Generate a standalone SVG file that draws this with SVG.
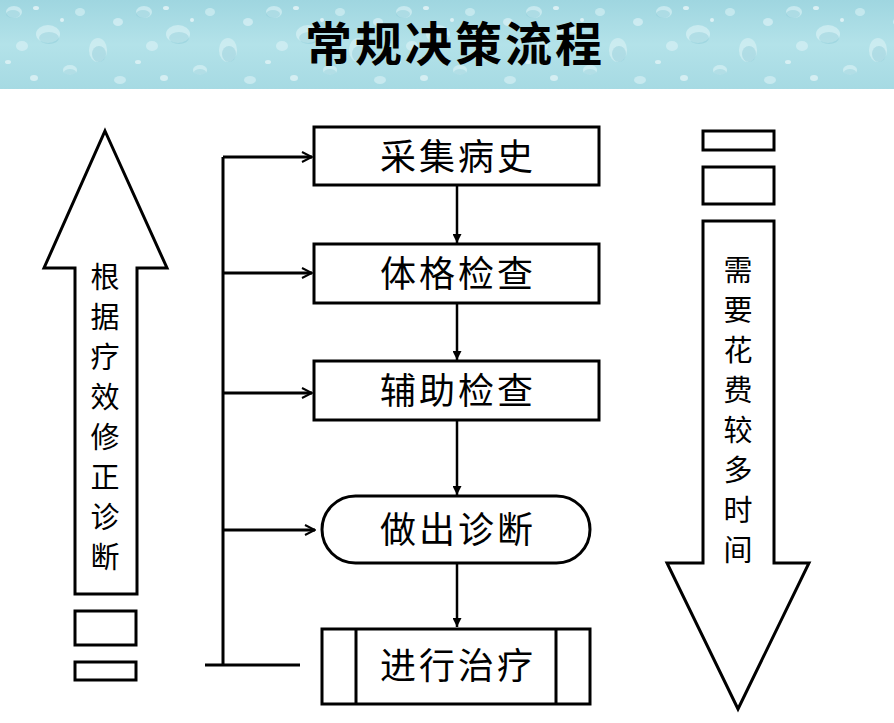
<svg xmlns="http://www.w3.org/2000/svg" width="894" height="723" viewBox="0 0 894 723">
<style>
.box{fill:#fff;stroke:#000;stroke-width:3}
.big{fill:#fff;stroke:#000;stroke-width:3;stroke-linejoin:miter}
.lbl{font-family:"Noto Sans CJK SC","Noto Sans",sans-serif;font-size:36px;fill:#000;text-anchor:middle;letter-spacing:3px}
.vt{font-family:"Noto Sans CJK SC","Noto Sans",sans-serif;font-size:29px;fill:#000;text-anchor:middle}
.ln{fill:none;stroke:#000;stroke-width:3}
.ln2{fill:none;stroke:#000;stroke-width:3}
.ln3{fill:none;stroke:#000;stroke-width:2.5}
</style>
<defs>
<linearGradient id="hdr" x1="0" y1="0" x2="0" y2="1">
<stop offset="0" stop-color="#9fd6e0"/>
<stop offset="0.5" stop-color="#b3e2e9"/>
<stop offset="1" stop-color="#a6dae3"/>
</linearGradient>
<pattern id="drops" width="130" height="89" patternUnits="userSpaceOnUse">
<ellipse cx="14" cy="12" rx="8" ry="6" fill="#e4f6f9" opacity="0.55"/>
<ellipse cx="13" cy="14" rx="7" ry="4" fill="#7cc3d1" opacity="0.35"/>
<ellipse cx="48" cy="34" rx="12" ry="9" fill="#e8f8fa" opacity="0.5"/>
<ellipse cx="49" cy="38" rx="10" ry="6" fill="#76bfcf" opacity="0.3"/>
<ellipse cx="36" cy="8" rx="3" ry="2" fill="#ffffff" opacity="0.6"/>
<ellipse cx="80" cy="12" rx="5" ry="4" fill="#d8f1f5" opacity="0.6"/>
<ellipse cx="22" cy="46" rx="6" ry="5" fill="#dff4f7" opacity="0.55"/>
<ellipse cx="8" cy="62" rx="3" ry="2" fill="#ffffff" opacity="0.5"/>
<ellipse cx="98" cy="50" rx="9" ry="12" fill="#e3f5f8" opacity="0.5"/>
<ellipse cx="99" cy="54" rx="7" ry="8" fill="#72bccc" opacity="0.3"/>
<ellipse cx="118" cy="22" rx="5" ry="4" fill="#e9f8fa" opacity="0.55"/>
<ellipse cx="70" cy="70" rx="7" ry="5" fill="#e2f5f8" opacity="0.55"/>
<ellipse cx="70" cy="72" rx="6" ry="3" fill="#7cc3d1" opacity="0.3"/>
<ellipse cx="34" cy="78" rx="4" ry="3" fill="#ffffff" opacity="0.5"/>
<ellipse cx="120" cy="80" rx="6" ry="4" fill="#dff4f7" opacity="0.55"/>
<ellipse cx="62" cy="20" rx="2" ry="2" fill="#ffffff" opacity="0.6"/>
</pattern>
<marker id="open" viewBox="0 0 12 12" refX="11" refY="6" markerWidth="12" markerHeight="12" markerUnits="userSpaceOnUse" orient="auto">
<path d="M1,1 L11,6 L1,11" fill="none" stroke="#000" stroke-width="2"/>
</marker>
<marker id="tri" viewBox="0 0 10 10" refX="10" refY="5" markerWidth="9" markerHeight="9" markerUnits="userSpaceOnUse" orient="auto">
<path d="M0,0 L10,5 L0,10 z" fill="#000"/>
</marker>
</defs>
<rect width="894" height="723" fill="#fff"/>
<g id="header">
<rect x="0" y="0" width="894" height="89" fill="url(#hdr)"/>
<rect x="0" y="0" width="894" height="89" fill="url(#drops)"/>
<text x="455" y="61" font-family="'Noto Sans CJK SC',sans-serif" font-size="47" font-weight="bold" text-anchor="middle" letter-spacing="3" fill="#000">常规决策流程</text>
</g>
<g id="connectors">
<path class="ln" d="M223,157 V665 M205,665 H300"/>
<line class="ln2" x1="223" y1="157" x2="312" y2="157" marker-end="url(#open)"/>
<line class="ln2" x1="223" y1="273" x2="312" y2="273" marker-end="url(#open)"/>
<line class="ln2" x1="223" y1="393" x2="312" y2="393" marker-end="url(#open)"/>
<line class="ln2" x1="223" y1="530" x2="315" y2="530" marker-end="url(#open)"/>
<line class="ln3" x1="457" y1="186" x2="457" y2="243" marker-end="url(#tri)"/>
<line class="ln3" x1="457" y1="304" x2="457" y2="360" marker-end="url(#tri)"/>
<line class="ln3" x1="457" y1="421" x2="457" y2="495" marker-end="url(#tri)"/>
<line class="ln3" x1="457" y1="564" x2="457" y2="627" marker-end="url(#tri)"/>
</g>
<g id="n1"><rect class="box" x="314" y="127" width="285" height="58"/><text class="lbl" x="458" y="170">采集病史</text></g>
<g id="n2"><rect class="box" x="314" y="244" width="285" height="59"/><text class="lbl" x="458" y="287">体格检查</text></g>
<g id="n3"><rect class="box" x="314" y="361" width="285" height="59"/><text class="lbl" x="458" y="404">辅助检查</text></g>
<g id="n4"><rect class="box" x="322" y="496" width="268" height="67" rx="33.5" ry="33.5"/><text class="lbl" x="458" y="543">做出诊断</text></g>
<g id="n5"><rect class="box" x="322" y="629" width="268" height="75"/><path class="ln" d="M356,629 V704 M556,629 V704"/><text class="lbl" x="458" y="679">进行治疗</text></g>
<g id="leftArrow">
<path class="big" d="M105,131 L167,268 L137,268 L137,594 L75,594 L75,268 L44,268 Z"/>
<text class="vt"><tspan x="105" y="288">根</tspan><tspan x="105" y="328">据</tspan><tspan x="105" y="368">疗</tspan><tspan x="105" y="408">效</tspan><tspan x="105" y="448">修</tspan><tspan x="105" y="488">正</tspan><tspan x="105" y="528">诊</tspan><tspan x="105" y="568">断</tspan></text>
<rect class="box" x="75" y="611" width="61" height="34"/>
<rect class="box" x="75" y="662" width="61" height="18"/>
</g>
<g id="rightArrow">
<rect class="box" x="703" y="131" width="71" height="19"/>
<rect class="box" x="703" y="167" width="71" height="37"/>
<path class="big" d="M703,221 L774,221 L774,563 L809,563 L738,709 L667,563 L703,563 Z"/>
<text class="vt"><tspan x="738" y="281">需</tspan><tspan x="738" y="321">要</tspan><tspan x="738" y="361">花</tspan><tspan x="738" y="401">费</tspan><tspan x="738" y="441">较</tspan><tspan x="738" y="481">多</tspan><tspan x="738" y="521">时</tspan><tspan x="738" y="561">间</tspan></text>
</g>
</svg>
